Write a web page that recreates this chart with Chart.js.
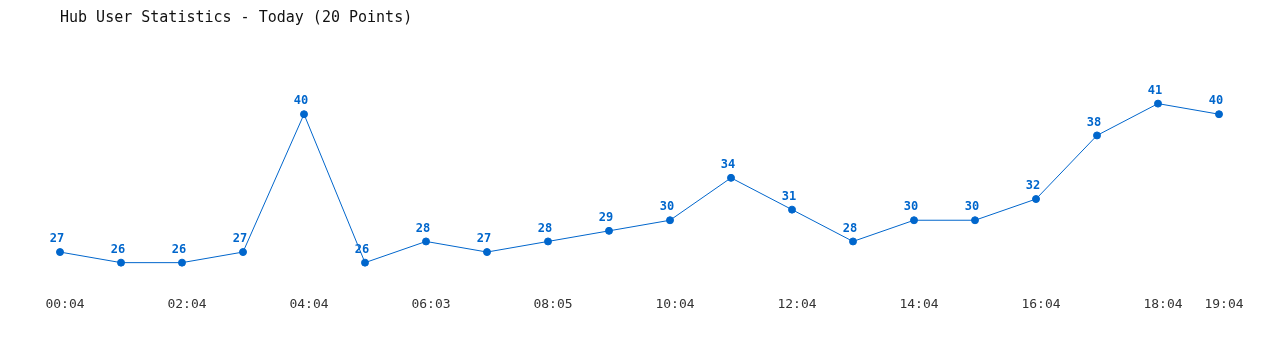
<!DOCTYPE html>
<html>
<head>
<meta charset="utf-8">
<script src="https://cdn.jsdelivr.net/npm/chart.js@4/dist/chart.umd.min.js"></script>
<style>
  html, body { margin: 0; padding: 0; background: #fff; }
  #wrap { width: 1280px; height: 350px; }
</style>
</head>
<body>
<div id="wrap"><canvas id="myChart" width="1280" height="350"></canvas></div>
<script>
const times = ['00:04', '01:04', '02:04', '03:04', '04:04', '05:04', '06:03', '07:04', '08:05', '09:04',
               '10:04', '11:04', '12:04', '13:04', '14:04', '15:04', '16:04', '17:04', '18:04', '19:04'];
const users = [27, 26, 26, 27, 40, 26, 28, 27, 28, 29, 30, 34, 31, 28, 30, 30, 32, 38, 41, 40];

const blue = '#0066cc';

// valori sopra i punti
const valueLabels = {
    id: 'valueLabels',
    afterDatasetsDraw(chart) {
        const ctx = chart.ctx;
        const meta = chart.getDatasetMeta(0);
        ctx.save();
        ctx.font = 'bold 12px "DejaVu Sans Mono"';
        ctx.fillStyle = blue;
        ctx.textAlign = 'center';
        ctx.textBaseline = 'middle';
        meta.data.forEach((pt, i) => {
            ctx.fillText(String(users[i]), pt.x - 3, pt.y - 13);
        });
        ctx.restore();
    }
};

const ctx = document.getElementById('myChart').getContext('2d');
new Chart(ctx, {
    type: 'line',
    data: {
        labels: times,
        datasets: [{
            data: users,
            borderColor: blue,
            backgroundColor: blue,
            borderWidth: 1,
            pointRadius: 3.5,
            pointBackgroundColor: blue,
            pointBorderColor: blue,
            tension: 0
        }]
    },
    options: {
        responsive: false,
        animation: false,
        layout: { padding: { left: 60, right: 61, top: 0, bottom: 35 } },
        scales: {
            x: {
                offset: false,
                grid: { display: false, drawTicks: false },
                border: { display: false },
                ticks: {
                    autoSkip: false,
                    maxRotation: 0,
                    padding: 3,
                    labelOffset: 5,
                    color: '#333',
                    font: { family: '"DejaVu Sans Mono"', size: 13 },
                    callback: function (value, index) {
                        if (index % 2 === 0 || index === times.length - 1) {
                            return this.getLabelForValue(value);
                        }
                        return '';
                    }
                }
            },
            y: {
                display: false,
                min: 23.1,
                max: 47
            }
        },
        plugins: {
            legend: { display: false },
            tooltip: { enabled: false },
            title: {
                display: true,
                text: 'Hub User Statistics - Today (20 Points)',
                align: 'start',
                color: '#111',
                font: { family: '"DejaVu Sans Mono"', size: 15, weight: 'normal' },
                padding: { top: 9, bottom: 13 }
            }
        }
    },
    plugins: [valueLabels]
});
</script>
</body>
</html>
